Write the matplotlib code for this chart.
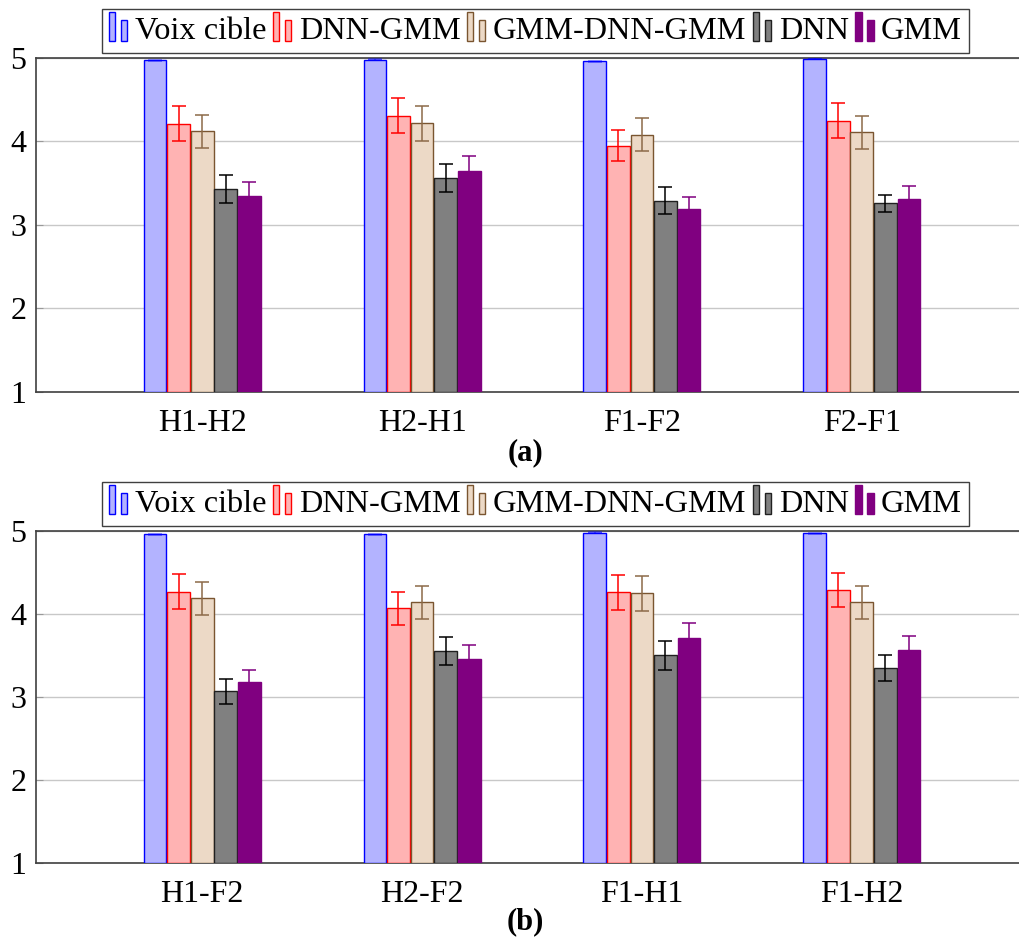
import matplotlib
matplotlib.use('Agg')
import matplotlib.pyplot as plt
import numpy as np
from matplotlib.patches import Rectangle
from matplotlib.legend_handler import HandlerBase

plt.rcParams['font.family'] = ['Liberation Serif', 'DejaVu Serif']

# Series names and styles
series = ['Voix cible', 'DNN-GMM', 'GMM-DNN-GMM', 'DNN', 'GMM']
fills = ['#b3b3ff', '#ffb3b3', '#ecd9c6', '#808080', '#800080']
edges = ['#0000ff', '#ff0000', '#7a5530', '#202020', '#800080']
errcols = ['#0000ff', '#ff0000', '#8c6a48', '#000000', '#800080']

# Panel (a)
labels_a = ['H1-H2', 'H2-H1', 'F1-F2', 'F2-F1']
voix_a = [4.97, 4.98, 4.96, 4.99]
dnngmm_a = [4.21, 4.31, 3.95, 4.25]
gmmdnn_a = [4.12, 4.22, 4.08, 4.11]
dnn_a = [3.43, 3.56, 3.29, 3.26]
gmm_a = [3.35, 3.65, 3.19, 3.31]
err_voix_a = [0.005, 0.005, 0.005, 0.005]
err_dnngmm_a = [0.21, 0.21, 0.19, 0.21]
err_gmmdnn_a = [0.20, 0.21, 0.20, 0.20]
err_dnn_a = [0.17, 0.17, 0.16, 0.10]
err_gmm_a = [0.16, 0.18, 0.15, 0.16]

# Panel (b)
labels_b = ['H1-F2', 'H2-F2', 'F1-H1', 'F1-H2']
voix_b = [4.96, 4.96, 4.98, 4.97]
dnngmm_b = [4.27, 4.07, 4.26, 4.29]
gmmdnn_b = [4.19, 4.14, 4.25, 4.14]
dnn_b = [3.07, 3.55, 3.50, 3.35]
gmm_b = [3.18, 3.46, 3.71, 3.57]
err_voix_b = [0.005, 0.005, 0.005, 0.005]
err_dnngmm_b = [0.21, 0.20, 0.21, 0.20]
err_gmmdnn_b = [0.20, 0.20, 0.21, 0.20]
err_dnn_b = [0.15, 0.17, 0.17, 0.16]
err_gmm_b = [0.15, 0.17, 0.18, 0.17]


class TwoBarHandler(HandlerBase):
    # pgfplots-style ybar legend: two small bars
    def create_artists(self, legend, orig_handle, xdescent, ydescent,
                       width, height, fontsize, trans):
        fc = orig_handle.get_facecolor()
        ec = orig_handle.get_edgecolor()
        w = width * 0.33
        y0 = -ydescent - height * 0.1
        r1 = Rectangle((-xdescent, y0), w, height * 1.3, facecolor=fc,
                       edgecolor=ec, lw=1, transform=trans)
        r2 = Rectangle((-xdescent + width * 0.62, y0), w, height * 0.95,
                       facecolor=fc, edgecolor=ec, lw=1, transform=trans)
        return [r1, r2]


fig = plt.figure(figsize=(10.2, 9.42), dpi=100)
ax_a = fig.add_axes([0.0353, 0.5839, 0.9725, 0.3546])
ax_b = fig.add_axes([0.0353, 0.0839, 0.9725, 0.3524])

panels = [
    (ax_a, labels_a, [voix_a, dnngmm_a, gmmdnn_a, dnn_a, gmm_a],
     [err_voix_a, err_dnngmm_a, err_gmmdnn_a, err_dnn_a, err_gmm_a], '(a)', 0.519),
    (ax_b, labels_b, [voix_b, dnngmm_b, gmmdnn_b, dnn_b, gmm_b],
     [err_voix_b, err_dnngmm_b, err_gmmdnn_b, err_dnn_b, err_gmm_b], '(b)', 0.021),
]

width = 0.104
step = 0.107
for ax, labels, values, errs, tag, ty in panels:
    x = np.arange(len(labels))
    for i in range(len(series)):
        pos = x + (i - 2) * step
        ax.bar(pos, np.array(values[i]) - 1, width=width, bottom=1,
               color=fills[i], edgecolor=edges[i], linewidth=1, zorder=3)
        ax.errorbar(pos, values[i], yerr=errs[i], fmt='none', ecolor=errcols[i],
                    elinewidth=1.1, capsize=5, capthick=1.1, zorder=4,
                    alpha=0.5 if i == 0 else 1)
    ax.set_xlim(-0.755, 3.755)
    ax.set_ylim(1, 5)
    ax.set_yticks([1, 2, 3, 4, 5])
    ax.set_xticks(x)
    ax.set_xticklabels(labels)
    ax.tick_params(axis='x', length=0, pad=12, labelsize=23)
    ax.tick_params(axis='y', direction='in', length=5, color='#999999',
                   pad=7, labelsize=23)
    ax.yaxis.grid(True, color='#c8c8c8', linewidth=1, zorder=0)
    ax.set_axisbelow(True)
    for s in ax.spines.values():
        s.set_color('#404040')
        s.set_linewidth(1.2)
    ax.spines['right'].set_visible(False)

    handles = [Rectangle((0, 0), 1, 1, facecolor=fills[i], edgecolor=edges[i])
               for i in range(len(series))]
    ax.legend(handles, series, handler_map={Rectangle: TwoBarHandler()},
              loc='lower center', bbox_to_anchor=(0.5035, 1.0), ncol=5,
              fontsize=23.3, frameon=True, fancybox=False, edgecolor='#404040',
              handlelength=0.6, handletextpad=0.2, columnspacing=0.2,
              borderpad=0.22, borderaxespad=0.15, framealpha=1)

    fig.text(0.515, ty, tag, ha='center', va='center', fontsize=22,
             fontweight='bold')

fig.savefig('out.png', dpi=100)
